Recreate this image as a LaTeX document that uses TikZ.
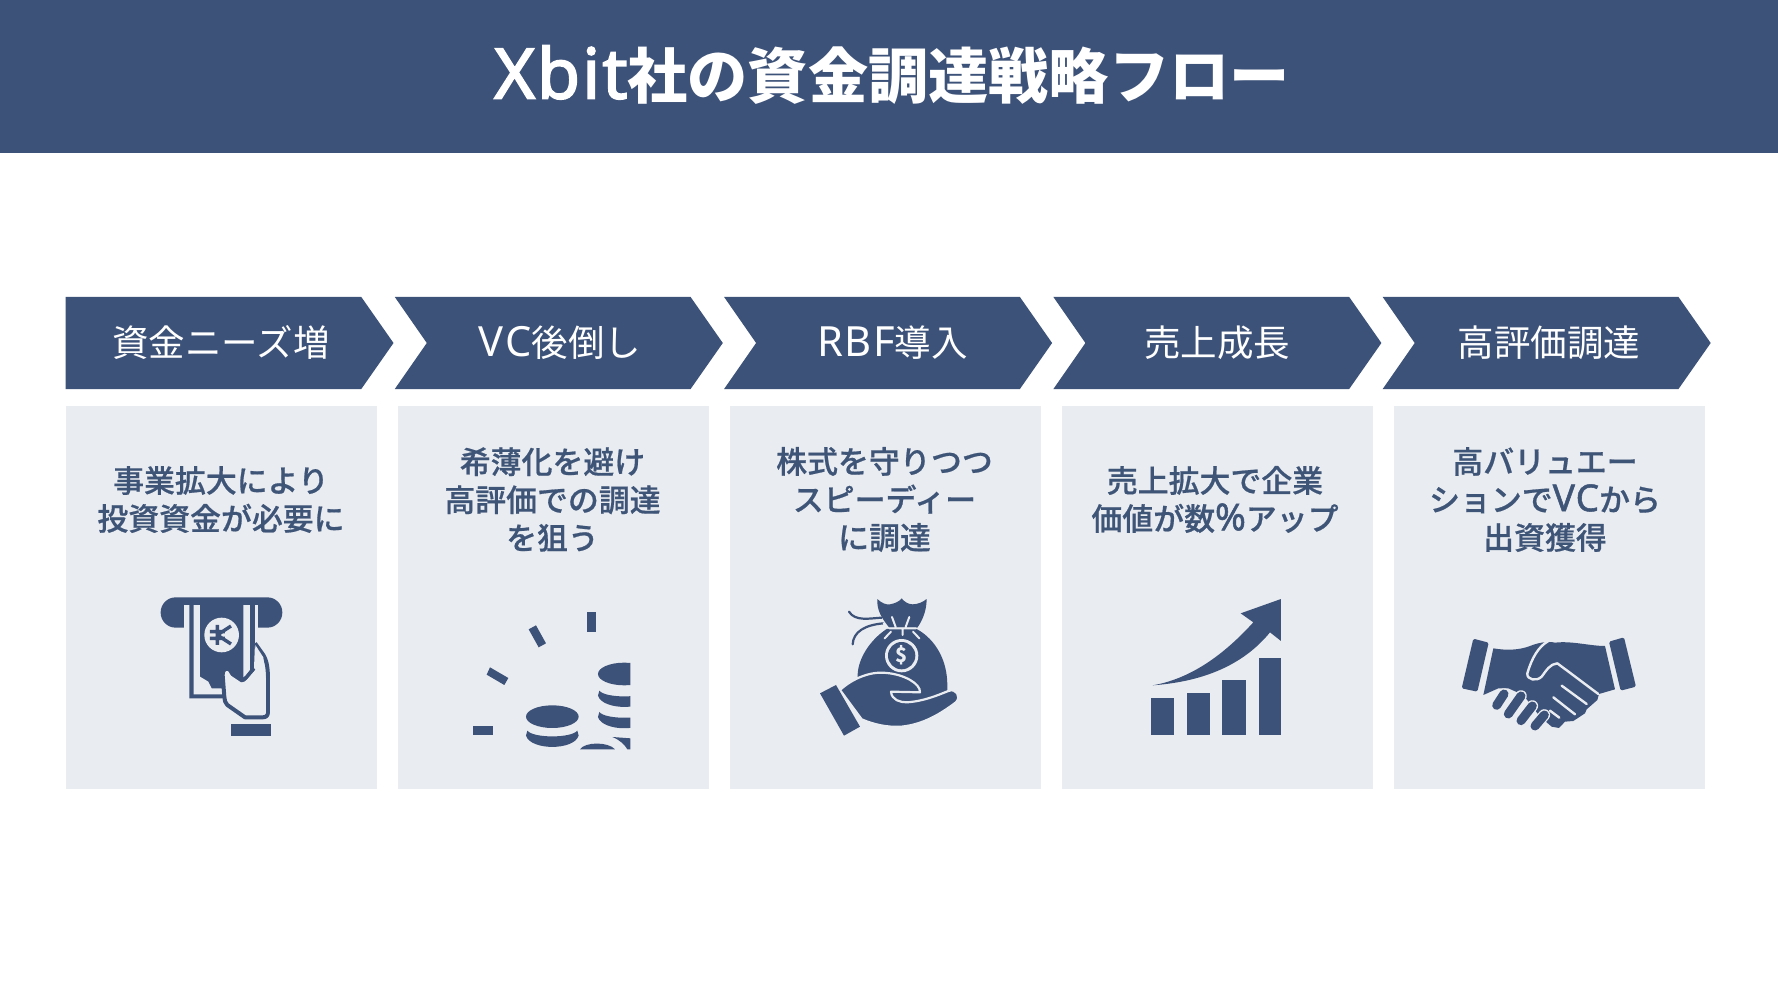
\documentclass[tikz,border=0pt]{standalone}
\usepackage{fontspec}
\setmainfont{Noto Sans CJK JP}
\newfontfamily\latr{Noto Sans}[Scale=1.14,LetterSpace=4]
\newfontfamily\latb{Noto Sans}[Scale=1.16,FakeBold=2.5,LetterSpace=3]
\newfontfamily\medf{Noto Sans CJK JP Medium}[FakeBold=0.6]
\newfontfamily\latm{Noto Sans}[Scale=1.2,FakeBold=1.4,LetterSpace=3]
\definecolor{navy}{HTML}{3D5279}
\definecolor{cardbg}{HTML}{E9ECF1}
\definecolor{subtxt}{HTML}{3F5578}
\tikzset{
  chevlabel/.style={text=white,inner sep=0pt,font=\fontsize{36.5}{40}\selectfont,anchor=center},
  cardlabel/.style={text=subtxt,inner sep=0pt,align=center,anchor=center,font=\medf\fontsize{30.9}{38}\selectfont},
  ico/.style={x=0.3333pt,y=-0.3333pt}
}
\begin{document}
\begin{tikzpicture}[x=1pt,y=-1pt]
\useasboundingbox (0,0) rectangle (1778,1000);
\fill[white] (0,0) rectangle (1778,1000);
\fill[navy] (0,0) rectangle (1778,153);
\node[text=white,inner sep=0pt,font=\bfseries\fontsize{60.2}{64}\selectfont] (title) at (892,75) {{\latb Xbit}社の資金調達戦略フロー};
% chevrons
\fill[navy] (65.5,297) -- (361.3,297) -- (393.5,343) -- (361.3,389) -- (65.5,389) -- cycle;
\foreach \i in {1,2,3,4}{
  \fill[navy,xshift=\i*329.3pt] (65.5,297) -- (361.3,297) -- (393.5,343) -- (361.3,389) -- (65.5,389) -- (97.5,343) -- cycle;
}
% cards
\foreach \i in {0,1,2,3,4}{
  \fill[cardbg,xshift=\i*332pt] (66,405.5) rectangle (377,789);
}
\node[chevlabel] (c1) at (221,343) {資金ニーズ増};
\node[chevlabel] (c2) at (560,343) {{\latr VC}後倒し};
\node[chevlabel] (c3) at (892.5,343) {{\latr RBF}導入};
\node[chevlabel] (c4) at (1217,343) {売上成長};
\node[chevlabel] (c5) at (1549,343) {高評価調達};
\node[cardlabel] (t1) at (221,499.5) {事業拡大により\\投資資金が必要に};
\node[cardlabel] (t2) at (552.5,499.5) {希薄化を避け\\高評価での調達\\を狙う};
\node[cardlabel] (t3) at (884.5,499.5) {株式を守りつつ\\スピーディー\\に調達};
\node[cardlabel] (t4) at (1215,499.5) {売上拡大で企業\\価値が数{\latm\%}アップ};
\node[cardlabel] (t5) at (1545,499.5) {高バリュエー\\ションで{\latm VC}から\\出資獲得};
% icon 1: ATM
\begin{scope}[shift={(130,580)},ico]
\fill[navy,rounded corners=15pt] (92,52) rectangle (457,143);
\fill[cardbg] (163,75) rectangle (385,143);
\fill[navy] (178,75) -- (375,75) -- (375,300) -- (285,355) -- (178,355) -- cycle;
\fill[cardbg] (191,75) -- (210,75) -- (210,290) -- (235,305) -- (245,325) -- (275,325) -- (283,343) -- (191,343) -- cycle;
\fill[cardbg] (340,75) -- (360,75) -- (360,280) -- (340,300) -- cycle;
\fill[cardbg] (275,165) circle[radius=52];
\draw[navy,line width=3.4pt] (262,135) -- (262,195) (240,155) -- (285,155) (240,175) -- (285,175) (262,165) -- (303,138) (262,165) -- (303,192);
\draw[navy,line width=4pt,fill=cardbg,line join=round] (375,190) -- (400,225) .. controls (412,245) and (414,270) .. (414,300) -- (414,395) .. controls (414,408) and (408,412) .. (398,412) -- (345,412) -- (292,375) .. controls (285,370) and (284,360) .. (283,350) -- (278,285) .. controls (276,268) and (292,260) .. (300,270) -- (312,290) .. controls (322,305) and (338,305) .. (350,292) -- (372,265);
\fill[cardbg] (376,195) -- (400,232) -- (408,300) -- (408,400) -- (350,400) -- (300,370) -- (290,300) -- (300,285) -- (340,312) -- (376,270) -- cycle;
\fill[navy] (303,431) rectangle (423,468);
\end{scope}
% icon 2: coins
\begin{scope}[shift={(450,590)},ico]
\fill[navy] (410,65) rectangle (438,127);
\fill[navy] (236,118) -- (258,106) -- (288,160) -- (266,172) -- cycle;
\fill[navy] (120,232) -- (175,264) -- (163,285) -- (110,254) -- cycle;
\fill[navy] (70,407) rectangle (130,434);
\fill[navy] (307,380) ellipse[x radius=79,y radius=34];
\fill[navy] (232,422) .. controls (250,445) and (364,445) .. (382,422) -- (386,437) .. controls (372,482) and (242,482) .. (228,437) -- cycle;
\begin{scope}
\clip (430,200) rectangle (541,480);
\fill[navy] (523,252) ellipse[x radius=79,y radius=34];
\foreach \dy in {0,64}{
  \fill[navy,yshift=-\dy*0.3333pt] (448,302) .. controls (466,325) and (580,325) .. (598,302) -- (602,317) .. controls (588,362) and (458,362) .. (444,317) -- cycle;
}
\fill[navy] (487,441) .. controls (510,450) and (525,465) .. (532,478) -- (541,478) -- (541,445) -- (487,441) -- cycle;
\end{scope}
\fill[navy] (390,478) .. controls (405,455) and (475,455) .. (495,478) -- cycle;
\end{scope}
% icon 3: money bag
\begin{scope}[shift={(790,585)},ico]
\draw[navy,line width=2.2pt,line cap=round] (177,80) .. controls (195,110) and (240,100) .. (275,98);
\draw[navy,line width=2.2pt,line cap=round] (188,178) .. controls (190,140) and (225,120) .. (280,115);
\fill[navy] (262,42) .. controls (275,55) and (290,60) .. (300,58) .. controls (315,55) and (328,50) .. (335,40) .. controls (342,50) and (355,58) .. (368,58) .. controls (385,58) and (400,50) .. (410,42) .. controls (410,80) and (395,110) .. (382,128) -- (298,128) .. controls (275,100) and (260,75) .. (262,42) -- cycle;
\fill[navy] (290,132) -- (380,132) .. controls (440,165) and (472,230) .. (472,300) -- (472,325) -- (330,380) -- (203,290) -- (203,268) .. controls (205,220) and (240,165) .. (290,132) -- cycle;
\draw[cardbg,line width=2pt,line cap=round] (306,96) -- (317,126) (358,96) -- (347,126) (281,115) -- (290,128) (284,160) -- (303,140) (388,160) -- (369,140) (338,130) -- (338,150) (298,130) -- (378,130);
\fill[cardbg] (335,212) circle[radius=50];
\fill[navy] (335,212) circle[radius=41];
\node[text=cardbg,inner sep=0pt,font=\bfseries\fontsize{20}{20}\selectfont] (dollar) at (335,212) {\$};
\fill[navy,draw=cardbg,line width=2.2pt,line join=round] (150,315) .. controls (190,278) and (245,258) .. (290,264) .. controls (340,268) and (392,295) .. (390,322) -- (303,320) .. controls (305,345) and (330,352) .. (350,352) .. controls (400,349) and (440,332) .. (475,318) .. controls (498,308) and (515,335) .. (498,352) .. controls (450,388) and (400,418) .. (335,425) .. controls (290,428) and (250,418) .. (215,403) -- cycle;
\fill[navy] (90,325) -- (138,300) -- (210,425) -- (162,452) -- cycle;
\end{scope}
% icon 4: growth
\begin{scope}[shift={(1130,585)},ico]
\fill[navy] (64,340) rectangle (132,450);
\fill[navy] (170,324) rectangle (239,450);
\fill[navy] (277,286) rectangle (348,450);
\fill[navy] (386,220) rectangle (453,450);
\fill[navy] (68,301) .. controls (190,280) and (290,200) .. (370,112) -- (332,85) -- (453,42) -- (453,168) -- (420,142) .. controls (340,240) and (220,290) .. (68,301) -- cycle;
\end{scope}
% icon 5: handshake
\begin{scope}[shift={(1440,620)},ico]
\fill[navy,rounded corners=1.5pt] (100,56) -- (146,68) -- (112,215) -- (65,205) -- cycle;
\fill[navy,rounded corners=1.5pt] (507,65) -- (552,52) -- (588,200) -- (542,212) -- cycle;
\fill[navy] (160,85) .. controls (200,92) and (240,90) .. (270,78) .. controls (290,70) and (320,62) .. (345,68) .. controls (395,62) and (450,78) .. (495,78) -- (525,208) -- (477,222) -- (472,240) -- (440,268) -- (435,280) -- (400,303) -- (375,305) -- (357,324) -- (335,320) -- (300,290) -- (250,225) -- (205,205) -- (175,205) -- (130,225) -- cycle;
\draw[cardbg,line width=2.4pt,line cap=round,line join=round] (325,63) .. controls (295,80) and (275,115) .. (262,160) .. controls (260,180) and (290,185) .. (305,170) .. controls (320,150) and (330,132) .. (352,130) -- (475,222);
\draw[cardbg,line width=2.4pt,line cap=round] (365,197) -- (440,252) (340,232) -- (405,283) (330,272) -- (358,293);
\foreach \a/\b/\c/\d in {170/256/192/222,205/282/243/228,243/302/277/258,285/318/313/285}{
  \draw[cardbg,line width=11.6pt,line cap=round] (\a,\b) -- (\c,\d);
  \draw[navy,line width=9pt,line cap=round] (\a,\b) -- (\c,\d);
}
\end{scope}
\end{tikzpicture}
\end{document}
